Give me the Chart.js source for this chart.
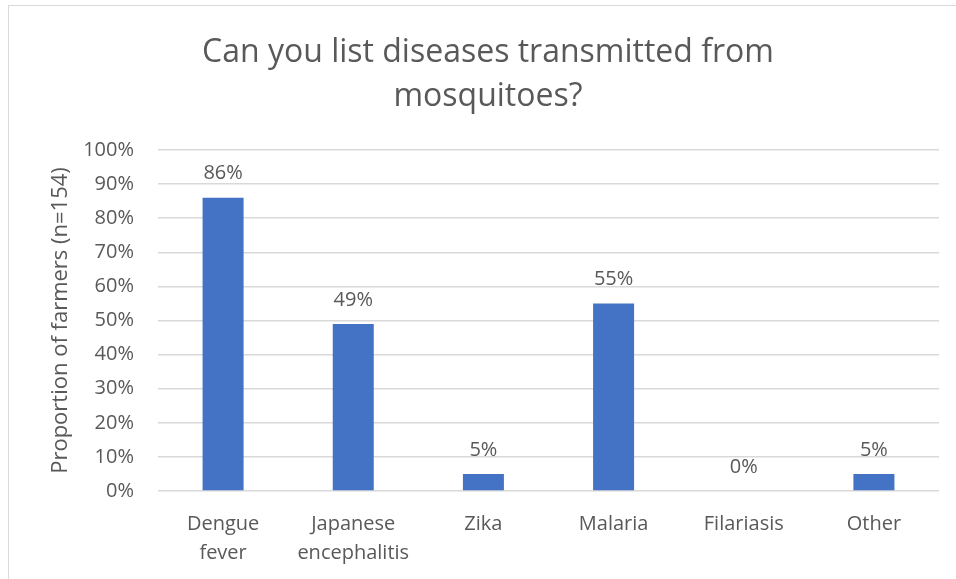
<!DOCTYPE html>
<html>
<head>
<meta charset="utf-8">
<title>Mosquito-borne diseases</title>
<script src="https://cdn.jsdelivr.net/npm/chart.js@4"></script>
<style>
  html, body { margin: 0; padding: 0; background: #fff; overflow: hidden; }
  .frame {
    position: absolute; left: 8px; top: 5px; width: 1000px; height: 700px;
    border: 1px solid #d9d9d9; box-sizing: border-box;
  }
  #chart { position: absolute; left: 0; top: 0; }
</style>
</head>
<body>
<div class="frame"></div>
<canvas id="chart" width="956" height="579"></canvas>
<script>
const categories = [
  ["Dengue", "fever"],
  ["Japanese", "encephalitis"],
  "Zika",
  "Malaria",
  "Filariasis",
  "Other",
];
const percentages = [86, 49, 5, 55, 0, 5];
const yTicks = [0, 10, 20, 30, 40, 50, 60, 70, 80, 90, 100];

const textColor = "#595959";
const fontFamily = "'Open Sans', sans-serif";

// value labels above each bar
const barLabels = {
  id: "barLabels",
  afterDatasetsDraw(chart) {
    const ctx = chart.ctx;
    const meta = chart.getDatasetMeta(0);
    ctx.save();
    ctx.font = "20px " + fontFamily;
    ctx.fillStyle = textColor;
    ctx.textAlign = "center";
    ctx.textBaseline = "middle";
    meta.data.forEach((bar, i) => {
      ctx.fillText(percentages[i] + "%", bar.x, bar.y - 24);
    });
    ctx.restore();
  },
};

const ctx = document.getElementById("chart").getContext("2d");
new Chart(ctx, {
  type: "bar",
  data: {
    labels: categories,
    datasets: [
      {
        data: percentages,
        backgroundColor: "#4472c4",
        categoryPercentage: 1,
        barPercentage: 0.315,
      },
    ],
  },
  options: {
    responsive: false,
    animation: false,
    layout: { padding: { left: 37, right: 17, top: 0, bottom: 0 } },
    plugins: {
      legend: { display: false },
      tooltip: { enabled: false },
      title: {
        display: true,
        text: ["Can you list diseases transmitted from", "mosquitoes?"],
        color: textColor,
        font: { family: fontFamily, size: 32, weight: "normal", lineHeight: 1.375 },
        padding: { top: 31, bottom: 31 },
      },
    },
    scales: {
      x: {
        grid: { display: false },
        border: { display: false },
        ticks: {
          color: textColor,
          font: { family: fontFamily, size: 20, lineHeight: 1.45 },
          padding: 11,
          maxRotation: 0,
          autoSkip: false,
        },
        afterFit(scale) {
          scale.height = 88;
        },
      },
      y: {
        min: 0,
        max: 100,
        afterBuildTicks(scale) {
          scale.ticks = yTicks.map((v) => ({ value: v }));
        },
        grid: { color: "#d9d9d9", lineWidth: 1.5, drawTicks: false },
        border: { display: false },
        ticks: {
          color: textColor,
          font: { family: fontFamily, size: 20 },
          padding: 24,
          callback: (v) => v + "%",
        },
        title: {
          display: true,
          text: "Proportion of farmers (n=154)",
          color: textColor,
          font: { family: fontFamily, size: 22 },
          padding: { top: 11, bottom: 0 },
        },
        afterFit(scale) {
          scale.width = 121;
        },
      },
    },
  },
  plugins: [barLabels],
});
</script>
</body>
</html>
